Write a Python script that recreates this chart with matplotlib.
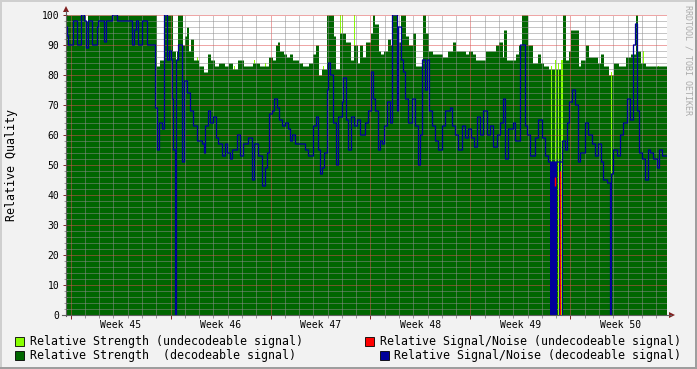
import numpy as np
import matplotlib
matplotlib.use("Agg")
import matplotlib.pyplot as plt
from matplotlib.patches import Rectangle, Polygon
from matplotlib.lines import Line2D
from matplotlib.ticker import FixedLocator

W, H = 697, 369

# one sample every 0.07 day (1.68 h); first sample 0.28 day before monday of week 45
slot_days = 0.07
start_day = -0.28
n_slots = 600

weeks = [45, 46, 47, 48, 49, 50]

# relative strength, decodeable signal: sample index where value changes / new value
strength_t = [0, 19, 21, 90, 93, 97, 106, 109, 110, 111, 116, 118, 120, 122, 124, 127,
              132, 137, 141, 144, 148, 152, 158, 162, 166, 171, 177, 186, 193, 202, 206,
              209, 211, 213, 217, 220, 223, 226, 232, 236, 242, 246, 249, 252, 255, 260,
              267, 269, 273, 279, 284, 287, 291, 293, 296, 299, 304, 306, 308, 312, 314,
              317, 321, 324, 326, 331, 334, 339, 342, 346, 349, 356, 359, 362, 366, 376,
              381, 386, 389, 399, 402, 406, 409, 419, 429, 432, 436, 437, 440, 449, 452,
              455, 461, 466, 471, 474, 477, 482, 484, 485, 488, 489, 491, 492, 494, 496,
              499, 502, 504, 512, 514, 519, 522, 531, 534, 537, 542, 544, 545, 547, 552,
              559, 564, 569, 571, 574, 579]
strength_v = [100, 98, 100, 83, 85, 100, 88, 59, 88, 100, 90, 93, 96, 88, 92, 85,
              83, 81, 87, 85, 83, 84, 83, 84, 82, 85, 83, 84, 83, 86, 85,
              90, 91, 88, 87, 86, 87, 85, 84, 83, 84, 87, 90, 80, 82, 100,
              93, 82, 94, 91, 85, 90, 84, 90, 86, 91, 94, 100, 97, 88, 87,
              88, 92, 90, 100, 91, 100, 93, 90, 94, 83, 100, 94, 88, 87, 86,
              88, 91, 88, 87, 88, 87, 85, 88, 90, 91, 86, 95, 85, 87, 90,
              100, 90, 84, 87, 84, 83, 82, 0, 82, 0, 82, 0, 82, 0, 100,
              85, 88, 95, 83, 85, 90, 86, 84, 87, 83, 80, 0, 80, 84, 83,
              86, 87, 100, 88, 84, 83]

# relative strength, undecodeable signal (single samples)
undec_t = [109, 130, 167, 187, 198, 235, 256, 273, 276, 287, 484, 488, 491, 494, 495,
           530, 541, 544, 576, 592]
undec_v = [84, 86, 83, 85, 84, 84, 83, 100, 100, 100, 83, 85, 84, 85, 85,
           85, 80, 81, 88, 83]

# relative signal/noise, decodeable signal
snr_t = [0, 1, 2, 7, 11, 15, 18, 20, 22, 26, 31, 32, 38, 40, 46, 51, 66, 68, 70, 72,
         76, 81, 89, 91, 93, 96, 98, 101, 103, 105, 106, 107, 109, 110, 112, 116, 118,
         121, 124, 127, 131, 136, 138, 139, 142, 144, 147, 150, 152, 156, 159, 161, 164,
         166, 171, 174, 177, 182, 186, 188, 192, 196, 199, 201, 203, 206, 208, 211, 213,
         216, 219, 222, 224, 226, 229, 239, 242, 247, 250, 252, 254, 256, 258, 261, 262,
         264, 267, 270, 272, 276, 277, 280, 282, 285, 288, 291, 294, 299, 302, 305, 307,
         309, 312, 314, 316, 318, 321, 324, 326, 331, 332, 335, 337, 339, 342, 346, 349,
         352, 354, 356, 359, 361, 363, 366, 369, 372, 376, 379, 384, 386, 389, 392, 396,
         399, 402, 405, 408, 411, 414, 417, 421, 424, 427, 431, 434, 437, 439, 442, 447,
         449, 454, 459, 461, 464, 469, 472, 476, 479, 482, 496, 499, 501, 503, 506, 509,
         512, 514, 519, 522, 526, 529, 532, 535, 537, 541, 544, 545, 547, 551, 554, 557,
         561, 564, 567, 569, 571, 573, 576, 579, 582, 584, 587, 591, 593, 596]
snr_v = [96, 93, 90, 98, 90, 100, 98, 89, 98, 90, 96, 98, 91, 98, 100, 98, 90, 95, 98, 90,
         98, 90, 69, 55, 64, 62, 100, 85, 88, 85, 72, 55, 0, 85, 90, 51, 78,
         74, 68, 63, 58, 57, 54, 63, 68, 64, 66, 59, 57, 53, 57, 54, 52,
         55, 60, 53, 57, 59, 45, 57, 53, 43, 49, 54, 67, 68, 72, 69, 65,
         63, 64, 62, 58, 60, 57, 55, 53, 63, 66, 55, 47, 49, 54, 75, 84,
         80, 64, 50, 66, 71, 79, 65, 55, 66, 63, 65, 60, 64, 68, 81, 72,
         68, 55, 58, 57, 63, 71, 64, 100, 68, 96, 85, 81, 72, 64, 72, 63,
         50, 60, 85, 75, 85, 68, 63, 58, 55, 63, 68, 69, 63, 60, 55, 63,
         59, 62, 59, 56, 66, 60, 68, 60, 63, 56, 60, 64, 72, 52, 62, 64,
         58, 90, 63, 60, 53, 59, 65, 59, 53, 51, 58, 55, 64, 71, 75, 70,
         51, 54, 64, 60, 57, 53, 57, 51, 45, 44, 0, 47, 55, 53, 60, 64,
         72, 65, 90, 97, 68, 54, 52, 45, 55, 54, 52, 49, 55, 53]

# samples where the decodeable signal/noise drops to zero inside the pixel
snr_drop_t = [483, 484, 485, 486, 487, 488, 489, 492, 495]

# relative signal/noise, undecodeable signal (single samples, low / high)
noise_t = [488, 493]
noise_low = [43, 0]
noise_high = [46, 48]

legend_labels = ["Relative Strength (undecodeable signal)",
                 "Relative Strength  (decodeable signal)",
                 "Relative Signal/Noise (undecodeable signal)",
                 "Relative Signal/Noise (decodeable signal)"]

c_light = "#88FF00"
c_dark = "#006600"
c_blue = "#000099"
c_red = "#FF0000"
c_back = "#F2F2F2"
c_grid = (0.56, 0.56, 0.56, 0.45)
c_mgrid = (0.87, 0.31, 0.31, 0.45)
c_arrow = (0.50, 0.12, 0.12)
mono = "DejaVu Sans Mono"


def expand(t, v):
    idx = np.searchsorted(t, np.arange(n_slots), side="right") - 1
    return np.asarray(v, dtype=float)[idx]


def px(x, y):
    return x / W, 1 - y / H


strength = expand(strength_t, strength_v)
snr = expand(snr_t, snr_v)
edges = start_day + np.arange(n_slots + 1) * slot_days

fig = plt.figure(figsize=(W / 100, H / 100), dpi=100, facecolor=c_back)
ax = fig.add_axes([66.5 / W, (H - 315) / H, 600 / W, 300 / H])
ax.set_facecolor("white")

ax.bar(start_day + np.array(undec_t) * slot_days, undec_v, width=slot_days,
       align="edge", color=c_light, lw=0, zorder=1)
ax.fill_between(edges, 0, np.append(strength, strength[-1]), step="post",
                color=c_dark, lw=0, zorder=1.5)
ax.step(edges, np.append(snr, snr[-1]), where="post", color=c_blue, lw=0.9, zorder=3)
drop = np.array(snr_drop_t)
ax.bar(start_day + drop * slot_days, snr[drop], width=slot_days, align="edge",
       color=c_blue, lw=0, zorder=3)
ax.vlines(start_day + (np.array(noise_t) + 0.5) * slot_days, noise_low, noise_high,
          colors=c_red, lw=1.0, zorder=3.5)

ax.set_xlim(edges[0], edges[-1])
ax.set_ylim(0, 100)

# grid
ax.yaxis.set_major_locator(FixedLocator(range(0, 101, 10)))
ax.yaxis.set_minor_locator(FixedLocator([v for v in range(2, 100, 2) if v % 10]))
week_edges = [7 * k for k in range(len(weeks))]
ax.xaxis.set_major_locator(FixedLocator(week_edges))
ax.xaxis.set_minor_locator(FixedLocator([d for d in range(0, 42) if d % 7]))
ax.set_axisbelow(False)
ax.grid(which="minor", color=c_grid, ls=(0, (1, 1)), lw=0.72)
ax.grid(which="major", color=c_mgrid, ls=(0, (1, 1)), lw=0.72)

ax.tick_params(axis="y", which="major", length=3, width=0.7, color=c_arrow,
               labelsize=7, pad=2)
ax.tick_params(axis="y", which="minor", length=2, width=0.7, color="#999999")
ax.tick_params(axis="x", which="major", length=3, width=0.7, color=c_arrow,
               labelbottom=False)
ax.tick_params(axis="x", which="minor", length=2, width=0.7, color="#999999")
for lab in ax.get_yticklabels():
    lab.set_fontfamily(mono)
for sp in ax.spines.values():
    sp.set_visible(False)

for k, w in enumerate(weeks):
    ax.text(7 * k + 3.5, -0.035, "Week %d" % w, transform=ax.get_xaxis_transform(),
            ha="center", va="center", fontsize=7, family=mono)

fig.text(12 / W, 1 - 165 / H, "Relative Quality", rotation=90, fontsize=8.4,
         family=mono, ha="center", va="center")

# axis lines with arrows
fig.add_artist(Line2D([px(66, 0)[0], px(66, 0)[0]], [px(0, 316)[1], px(0, 11)[1]],
                      color="#606060", lw=0.8))
fig.add_artist(Line2D([px(62, 0)[0], px(671, 0)[0]], [px(0, 315)[1], px(0, 315)[1]],
                      color="#606060", lw=0.8))
fig.add_artist(Polygon([px(63, 12), px(69, 12), px(66, 6)], closed=True,
                       color=c_arrow, lw=0))
fig.add_artist(Polygon([px(669, 312), px(669, 318), px(675, 315)], closed=True,
                       color=c_arrow, lw=0))

# legend
boxes = [(15, 337, c_light), (15, 351, c_dark), (365, 337, c_red), (380, 351, c_blue)]
starts = [30, 30, 380, 394]
for (bx, by, col), sx, text in zip(boxes, starts, legend_labels):
    x0, y0 = px(bx, by + 9)
    fig.add_artist(Rectangle((x0, y0), 9 / W, 9 / H, facecolor=col,
                             edgecolor="black", lw=0.6))
    fig.text(sx / W, 1 - (by + 4.5) / H, text, fontsize=8.4, family=mono,
             ha="left", va="center")

fig.text(688 / W, 1 - 5 / H, "RRDTOOL / TOBI OETIKER", rotation=270, fontsize=6,
         family=mono, color="#ABABAB", ha="center", va="top")

# 3d frame
fig.add_artist(Rectangle((0, 1 - 2 / H), 1, 2 / H, color="#CFCFCF", lw=0))
fig.add_artist(Rectangle((0, 0), 2 / W, 1, color="#CFCFCF", lw=0))
fig.add_artist(Rectangle((0, 0), 1, 2 / H, color="#9E9E9E", lw=0))
fig.add_artist(Rectangle((1 - 2 / W, 0), 2 / W, 1, color="#9E9E9E", lw=0))

fig.savefig("out.png", dpi=100, facecolor=c_back)
